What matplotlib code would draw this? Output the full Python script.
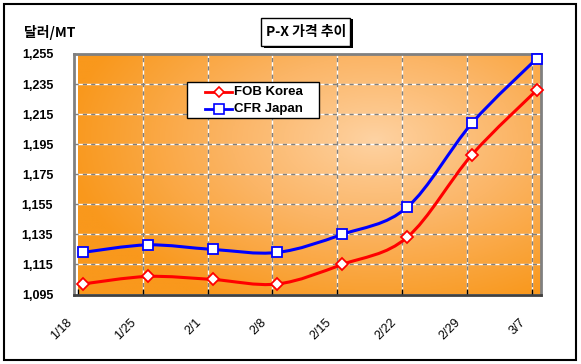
import numpy as np
import matplotlib
matplotlib.use("Agg")
import matplotlib.pyplot as plt
from matplotlib.path import Path
from matplotlib.patches import PathPatch, Rectangle
from matplotlib.lines import Line2D
from matplotlib.colors import LinearSegmentedColormap

plt.rcParams['font.family'] = ['Liberation Sans', 'Noto Sans CJK KR', 'DejaVu Sans']

dates = ["1/18", "1/25", "2/1", "2/8", "2/15", "2/22", "2/29", "3/7"]
fob_korea = [1102, 1107, 1105, 1102, 1115, 1133, 1188, 1231]
cfr_japan = [1123, 1128, 1125, 1123, 1135, 1153, 1209, 1252]
y_ticks = [1095, 1115, 1135, 1155, 1175, 1195, 1215, 1235, 1255]
series_names = ["FOB Korea", "CFR Japan"]

W, H = 581, 364
fig = plt.figure(figsize=(W / 100, H / 100), dpi=100)
fig.patch.set_facecolor('white')


def fx(px):
    return px / W


def fy(py):
    return 1 - py / H


# outer border
fig.add_artist(Rectangle((4 / W, 4 / H), 572 / W, 356 / H, transform=fig.transFigure,
                         fill=False, edgecolor='black', linewidth=1.5))

ax = fig.add_axes([74 / W, 1 - 294.5 / H, 467 / W, 240.5 / H])
x = np.arange(len(dates))
off = -0.076
ax.set_xlim(off, 7.064)
ax.set_ylim(1095, 1255)

# radial gradient background
gx, gy = np.meshgrid(np.linspace(0, 1, 400), np.linspace(0, 1, 300))
r = np.sqrt(((gx - 0.64) / 0.75) ** 2 + ((gy - 0.64) / 0.85) ** 2)
r = np.clip(r / r.max(), 0, 1) ** 0.9
cmap = LinearSegmentedColormap.from_list('og', ['#FED3A4', '#FBB566', '#F9981C'])
ax.imshow(r, extent=[off, 7.064, 1095, 1255], origin='lower', aspect='auto',
          cmap=cmap, vmin=0, vmax=0.8, zorder=0)

# gridlines
for yv in y_ticks[1:-1]:
    ax.axhline(yv, color='white', lw=1, zorder=1)
    ax.axhline(yv, color='#808080', lw=1, ls=(0, (3, 3)), zorder=1.1)
for i in range(1, len(dates)):
    ax.axvline(i + off, color='white', lw=1, zorder=1)
    ax.axvline(i + off, color='#808080', lw=1, ls=(0, (3, 3)), zorder=1.1)


def smooth_path(xs, ys, t=1 / 6):
    xs = np.asarray(xs, float)
    ys = np.asarray(ys, float)
    verts = [(xs[0], ys[0])]
    codes = [Path.MOVETO]
    n = len(xs)
    for i in range(n - 1):
        p0 = (xs[max(i - 1, 0)], ys[max(i - 1, 0)])
        p1 = (xs[i], ys[i])
        p2 = (xs[i + 1], ys[i + 1])
        p3 = (xs[min(i + 2, n - 1)], ys[min(i + 2, n - 1)])
        c1 = (p1[0] + (p2[0] - p0[0]) * t, p1[1] + (p2[1] - p0[1]) * t)
        c2 = (p2[0] - (p3[0] - p1[0]) * t, p2[1] - (p3[1] - p1[1]) * t)
        verts += [c1, c2, p2]
        codes += [Path.CURVE4] * 3
    return Path(verts, codes)


ax.add_patch(PathPatch(smooth_path(x, cfr_japan), fill=False, edgecolor='#0000FF', lw=2.2, zorder=3))
ax.add_patch(PathPatch(smooth_path(x, fob_korea), fill=False, edgecolor='#FF0000', lw=2.2, zorder=3))
ax.plot(x, cfr_japan, ls='none', marker='s', ms=7, mfc='white', mec='#0000FF', mew=1.3, zorder=4,
        clip_on=False)
ax.plot(x, fob_korea, ls='none', marker='D', ms=6, mfc='white', mec='#FF0000', mew=1.3, zorder=4,
        clip_on=False)

# spines
for s in ['left', 'top', 'right']:
    ax.spines[s].set_color('#808080')
    ax.spines[s].set_linewidth(2)
ax.spines['bottom'].set_color('#404040')
ax.spines['bottom'].set_linewidth(2)

ax.set_yticks(y_ticks)
ax.set_yticklabels([f"{v:,}" for v in y_ticks], fontsize=9, fontweight='bold')
ax.tick_params(axis='y', length=0, pad=15)

ax.set_xticks([i + off for i in range(len(dates))])
ax.set_xticklabels([])
ax.tick_params(axis='x', which='major', direction='in', length=4, width=1, color='black')
ax.set_xticks([i + off - 0.06 for i in range(len(dates))], minor=True)
ax.set_xticklabels(dates, minor=True, rotation=45, ha='right', va='top', fontsize=9)
ax.tick_params(axis='x', which='minor', length=0, pad=16)

# legend (drawn manually to match the box geometry)
fig.add_artist(Rectangle((fx(187), fy(118)), 132 / W, 36 / H, transform=fig.transFigure,
                         fc='white', ec='black', lw=1, zorder=10))
leg_styles = [dict(color='#FF0000', marker='D', ms=5.5), dict(color='#0000FF', marker='s', ms=6.5)]
for row, (name, st) in enumerate(zip(series_names, leg_styles)):
    yy = fy(92 + 16.5 * row)
    fig.add_artist(Line2D([fx(205), fx(232)], [yy, yy], transform=fig.transFigure, color=st['color'],
                          lw=2, zorder=11))
    fig.add_artist(Line2D([fx(218.5)], [yy], transform=fig.transFigure, ls='none', marker=st['marker'],
                          ms=st['ms'], mfc='white', mec=st['color'], mew=1.2, zorder=12))
    fig.text(fx(234), yy, name, fontsize=9.5, fontweight='bold', va='center', ha='left', zorder=13)

# titles
fig.text(24 / W, 1 - 33 / H, '달러/MT', fontsize=10, fontweight='bold', va='center', ha='left',
         family=['Noto Sans CJK KR', 'Liberation Sans'])
# title box with shadow
fig.add_artist(Rectangle((264 / W, 1 - 48 / H), 89 / W, 29 / H, transform=fig.transFigure,
                         fc='black', ec='none', zorder=1))
fig.add_artist(Rectangle((261 / W, 1 - 46 / H), 89 / W, 28 / H, transform=fig.transFigure,
                         fc='white', ec='black', lw=1, zorder=2))
fig.text(306 / W, 1 - 32 / H, 'P-X 가격 추이', fontsize=10, fontweight='bold', va='center', ha='center',
         family=['Noto Sans CJK KR', 'Liberation Sans'], zorder=3)

fig.savefig('out.png', dpi=100)
